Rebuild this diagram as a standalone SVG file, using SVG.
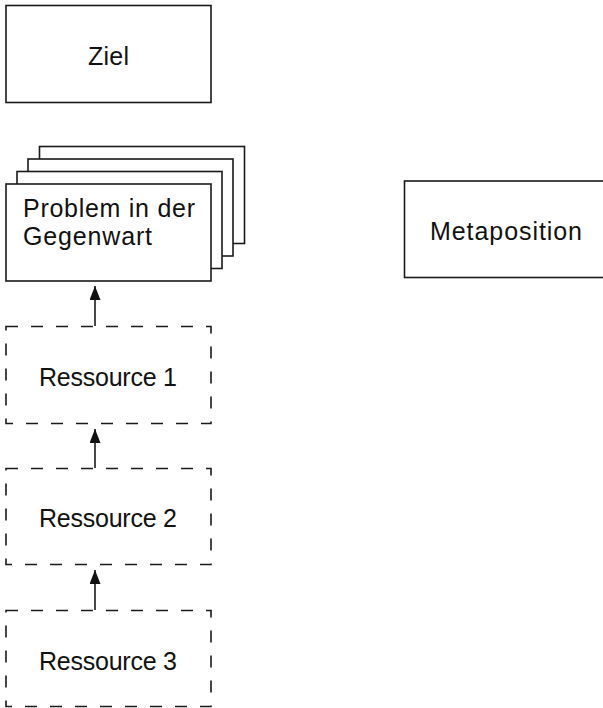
<svg xmlns="http://www.w3.org/2000/svg" width="603" height="708" viewBox="0 0 603 708">
  <style>
    .box { fill: #ffffff; stroke: #1a1a1a; stroke-width: 1.6; }
    .dashed { fill: #ffffff; stroke: #1a1a1a; stroke-width: 1.6; stroke-dasharray: 12 13; }
    .label { font-family: "Liberation Sans", Arial, sans-serif; font-size: 25px; fill: #111111; }
    .mid { text-anchor: middle; }
    .edge { stroke: #1a1a1a; stroke-width: 1.6; fill: none; marker-end: url(#arrow); }
  </style>
  <defs>
    <marker id="arrow" markerWidth="14" markerHeight="11" refX="14" refY="5.5" orient="auto" markerUnits="userSpaceOnUse" viewBox="0 0 14 11">
      <path d="M0,0 L14,5.5 L0,11 Z" fill="#111111"/>
    </marker>
  </defs>

  <!-- Goal -->
  <g id="ziel">
    <rect class="box" x="6" y="5.5" width="205" height="97"/>
    <text class="label mid" x="108.5" y="64.5" textLength="41" lengthAdjust="spacing">Ziel</text>
  </g>

  <!-- Present problem, drawn as a stack of sheets -->
  <g id="problem">
    <rect class="box" x="39.5" y="146.5" width="205" height="97"/>
    <rect class="box" x="28" y="159" width="205" height="97"/>
    <rect class="box" x="17" y="171.5" width="205" height="97"/>
    <rect class="box" x="6" y="184" width="205" height="97"/>
    <text class="label" x="23" y="217" textLength="172" lengthAdjust="spacing">Problem in der</text>
    <text class="label" x="23" y="245" textLength="129" lengthAdjust="spacing">Gegenwart</text>
  </g>

  <!-- Meta position -->
  <g id="metaposition">
    <rect class="box" x="404.5" y="181" width="205" height="96.5"/>
    <text class="label mid" x="506" y="240" textLength="152" lengthAdjust="spacing">Metaposition</text>
  </g>

  <!-- Resources -->
  <g id="ressource1">
    <rect class="dashed" x="6" y="326.5" width="205" height="97"/>
    <text class="label mid" x="108" y="386" textLength="138" lengthAdjust="spacing">Ressource 1</text>
  </g>
  <g id="ressource2">
    <rect class="dashed" x="6" y="468.5" width="205" height="96"/>
    <text class="label mid" x="108" y="526.5" textLength="138" lengthAdjust="spacing">Ressource 2</text>
  </g>
  <g id="ressource3">
    <rect class="dashed" x="6" y="610.5" width="205" height="96"/>
    <text class="label mid" x="108" y="670" textLength="138" lengthAdjust="spacing">Ressource 3</text>
  </g>

  <!-- Connectors -->
  <g id="connectors">
    <line class="edge" x1="95" y1="326" x2="95" y2="286"/>
    <line class="edge" x1="95" y1="468" x2="95" y2="429"/>
    <line class="edge" x1="95" y1="610" x2="95" y2="570"/>
  </g>
</svg>
